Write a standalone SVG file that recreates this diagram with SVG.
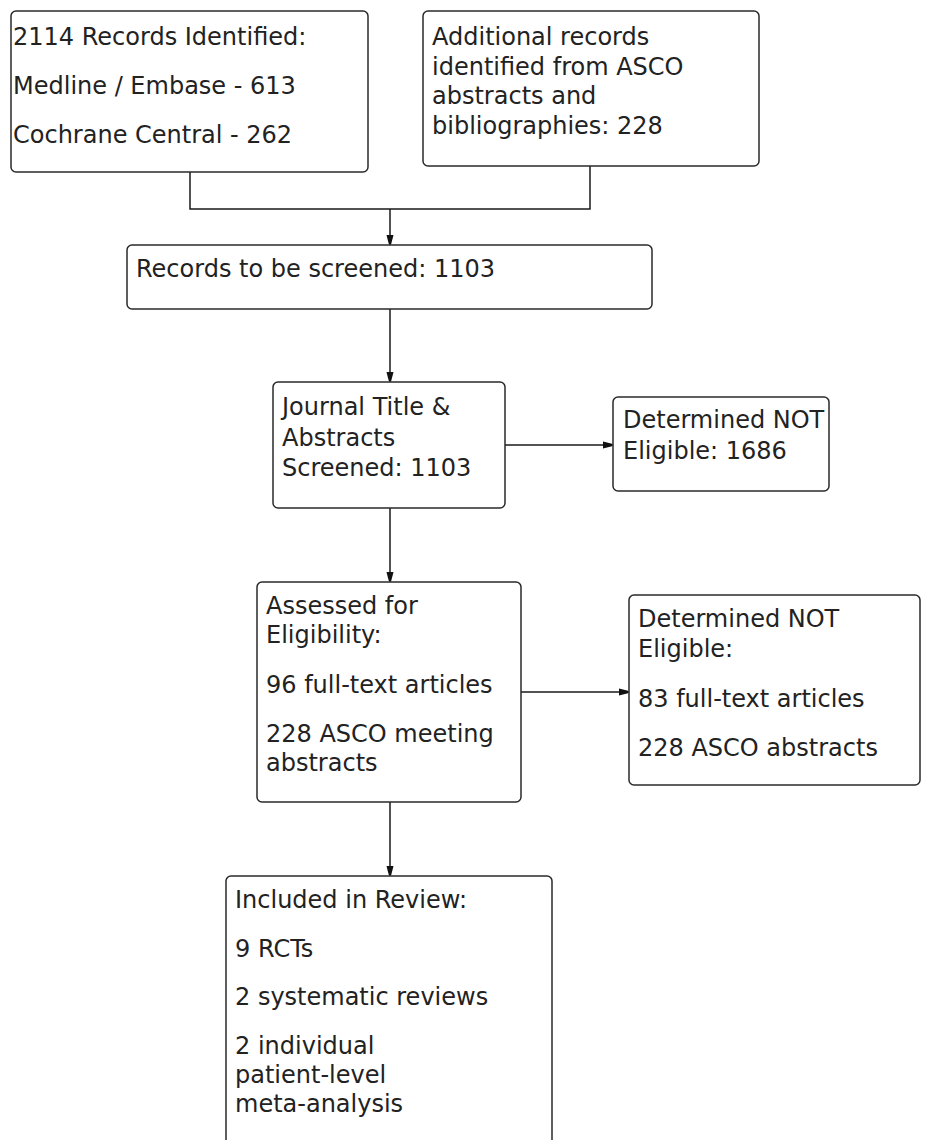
<svg xmlns="http://www.w3.org/2000/svg" width="931" height="1140" viewBox="0 0 931 1140">
<style>
.box{fill:#fff;stroke:#2a2a2a;stroke-width:1.5}
.t{font-family:"DejaVu Sans","Noto Sans",sans-serif;font-size:24px;fill:#222}
.c{fill:none;stroke:#1a1a1a;stroke-width:1.5}
</style>
<defs>
<marker id="ah" markerUnits="userSpaceOnUse" markerWidth="12" markerHeight="10" viewBox="-10 -5 12 10" refX="0" refY="0" orient="auto">
<path d="M-10,-3.5 L-1,-1.2 L-1,1.2 L-10,3.5 z" fill="#111"/>
</marker>
</defs>
<rect width="931" height="1140" fill="#fff"/>
<g id="connectors">
<path class="c" d="M190,172 V209 H590 V166"/>
<path class="c" d="M390,209 V245" marker-end="url(#ah)"/>
<path class="c" d="M390,309 V382" marker-end="url(#ah)"/>
<path class="c" d="M505,445 H613" marker-end="url(#ah)"/>
<path class="c" d="M390,508 V582" marker-end="url(#ah)"/>
<path class="c" d="M521,692 H629" marker-end="url(#ah)"/>
<path class="c" d="M390,802 V876" marker-end="url(#ah)"/>
</g>
<g id="n1">
<rect class="box" x="11" y="11" width="357" height="161" rx="5"/>
<text class="t" x="13" y="45">2114 Records Identified:</text>
<text class="t" x="13" y="94">Medline / Embase - 613</text>
<text class="t" x="13" y="143">Cochrane Central - 262</text>
</g>
<g id="n2">
<rect class="box" x="423" y="11" width="336" height="155" rx="5"/>
<text class="t" x="432" y="45">Additional records</text>
<text class="t" x="432" y="74.5">identified from ASCO</text>
<text class="t" x="432" y="104">abstracts and</text>
<text class="t" x="432" y="133.5">bibliographies: 228</text>
</g>
<g id="n3">
<rect class="box" x="127" y="245" width="525" height="64" rx="5"/>
<text class="t" x="136" y="277">Records to be screened: 1103</text>
</g>
<g id="n4">
<rect class="box" x="273" y="382" width="232" height="126" rx="5"/>
<text class="t" x="282" y="415">Journal Title &amp;</text>
<text class="t" x="282" y="445.5">Abstracts</text>
<text class="t" x="282" y="476">Screened: 1103</text>
</g>
<g id="n5">
<rect class="box" x="613" y="397" width="216" height="94" rx="5"/>
<text class="t" x="623" y="428">Determined NOT</text>
<text class="t" x="623" y="459">Eligible: 1686</text>
</g>
<g id="n6">
<rect class="box" x="257" y="582" width="264" height="220" rx="5"/>
<text class="t" x="266" y="614">Assessed for</text>
<text class="t" x="266" y="643">Eligibility:</text>
<text class="t" x="266" y="692.5">96 full-text articles</text>
<text class="t" x="266" y="741.5">228 ASCO meeting</text>
<text class="t" x="266" y="770.5">abstracts</text>
</g>
<g id="n7">
<rect class="box" x="629" y="595" width="291" height="190" rx="5"/>
<text class="t" x="638" y="627">Determined NOT</text>
<text class="t" x="638" y="657">Eligible:</text>
<text class="t" x="638" y="707">83 full-text articles</text>
<text class="t" x="638" y="756">228 ASCO abstracts</text>
</g>
<g id="n8">
<rect class="box" x="226" y="876" width="326" height="300" rx="5"/>
<text class="t" x="235" y="908">Included in Review:</text>
<text class="t" x="235" y="957">9 RCTs</text>
<text class="t" x="235" y="1005">2 systematic reviews</text>
<text class="t" x="235" y="1053.5">2 individual</text>
<text class="t" x="235" y="1083">patient-level</text>
<text class="t" x="235" y="1112">meta-analysis</text>
</g>
</svg>
